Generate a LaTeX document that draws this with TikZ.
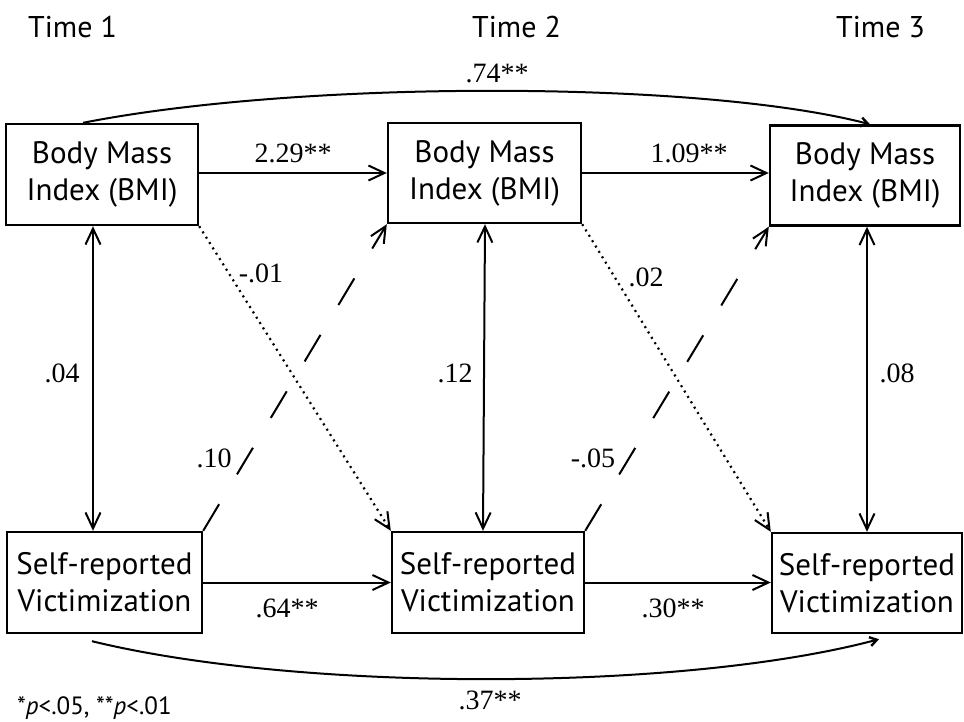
\documentclass[tikz,border=0pt]{standalone}
\usepackage{fontspec}
\setmainfont{Liberation Serif}
\setsansfont{PT Sans}
\usetikzlibrary{arrows.meta}
\begin{document}
\begin{tikzpicture}[x=1pt,y=-1pt,
  box/.style={draw,line width=2.4pt,inner sep=0pt,align=center,font=\sffamily\fontsize{31}{37}\selectfont},
  lab/.style={font=\fontsize{28}{30}\selectfont,inner sep=0pt},
  tlab/.style={font=\sffamily\fontsize{30}{32}\selectfont,inner sep=0pt,anchor=west},
  arr/.style={line width=2pt,-{Straight Barb[length=16pt,width=15pt,line width=2pt]}},
  dbl/.style={line width=2pt,{Straight Barb[length=16pt,width=15pt,line width=2pt]}-{Straight Barb[length=16pt,width=15pt,line width=2pt]}},
  dotarr/.style={arr,line width=2.2pt,dash pattern=on 2pt off 4.3pt},
  dasharr/.style={arr,dash pattern=on 31pt off 34.8pt},
  curv/.style={line width=2pt,-{Straight Barb[length=7pt,width=9pt,line width=2.4pt]}}]
\useasboundingbox (0,0) rectangle (964,721);
% column headings
\node[tlab] (t1) at (28,27) {Time 1};
\node[tlab] (t2) at (472,27) {Time 2};
\node[tlab] (t3) at (836,27) {Time 3};
% boxes
\node[box,minimum width=192pt,minimum height=101pt] (bmi1) at (102,174.5) {Body Mass\\Index (BMI)};
\node[box,minimum width=193pt,minimum height=100pt] (bmi2) at (484.5,173) {Body Mass\\Index (BMI)};
\node[box,minimum width=190pt,minimum height=100pt] (bmi3) at (865,175.5) {Body Mass\\Index (BMI)};
\node[box,minimum width=195pt,minimum height=101pt] (srv1) at (104.5,582.5) {Self-reported\\Victimization};
\node[box,minimum width=192pt,minimum height=101pt] (srv2) at (488,582.5) {Self-reported\\Victimization};
\node[box,minimum width=190pt,minimum height=100pt] (srv3) at (867,583) {Self-reported\\Victimization};
% stability paths
\draw[arr] (bmi1.east |- bmi2.west) -- (bmi2.west);
\draw[arr] (bmi2.east) -- (bmi2.east -| bmi3.west);
\draw[arr] (srv1.east) -- (srv1.east -| srv2.west);
\draw[arr] (srv2.east) -- (srv2.east -| srv3.west);
% correlations
\draw[dbl] ([xshift=-9pt]bmi1.south) -- ([xshift=-11.5pt]srv1.north);
\draw[dbl] ([xshift=0.5pt]bmi2.south) -- ([xshift=-5pt]srv2.north);
\draw[dbl] ([xshift=2pt]bmi3.south) -- (srv3.north);
% cross-lagged
\draw[dotarr] (bmi1.south east) -- (srv2.north west);
\draw[dotarr] (bmi2.south east) -- (srv3.north west);
\draw[dasharr] (srv1.north east) -- (bmi2.south west);
\draw[dasharr] (srv2.north east) -- (bmi3.south west);
% long paths
\draw[curv] ([xshift=-19pt]bmi1.north) .. controls (300,80) and (700,80) .. ([xshift=5pt]bmi3.north);
\draw[curv] ([xshift=-12.5pt,yshift=-7pt]srv1.south) .. controls (300,692) and (680,692) .. ([xshift=12pt,yshift=-5pt]srv3.south);
% labels
\node[lab] (l229) at (293,153) {2.29**};
\node[lab] (l109) at (689,153) {1.09**};
\node[lab] (l64) at (287,608) {.64**};
\node[lab] (l30) at (673,608) {.30**};
\node[lab] (l74) at (497,73) {.74**};
\node[lab] (l37) at (490,700) {.37**};
\node[lab] (l04) at (62,373) {.04};
\node[lab] (l12) at (455,373) {.12};
\node[lab] (l08) at (897,373) {.08};
\node[lab] (l01) at (261,273) {-.01};
\node[lab] (l02) at (646,277) {.02};
\node[lab] (l10) at (214,458) {.10};
\node[lab] (l05) at (593,458) {-.05};
% footnote
\node[anchor=west,inner sep=0pt,font=\sffamily\fontsize{25}{27}\selectfont] (fn) at (17,708) {*\textit{p}<.05, **\textit{p}<.01};
\end{tikzpicture}
\end{document}
